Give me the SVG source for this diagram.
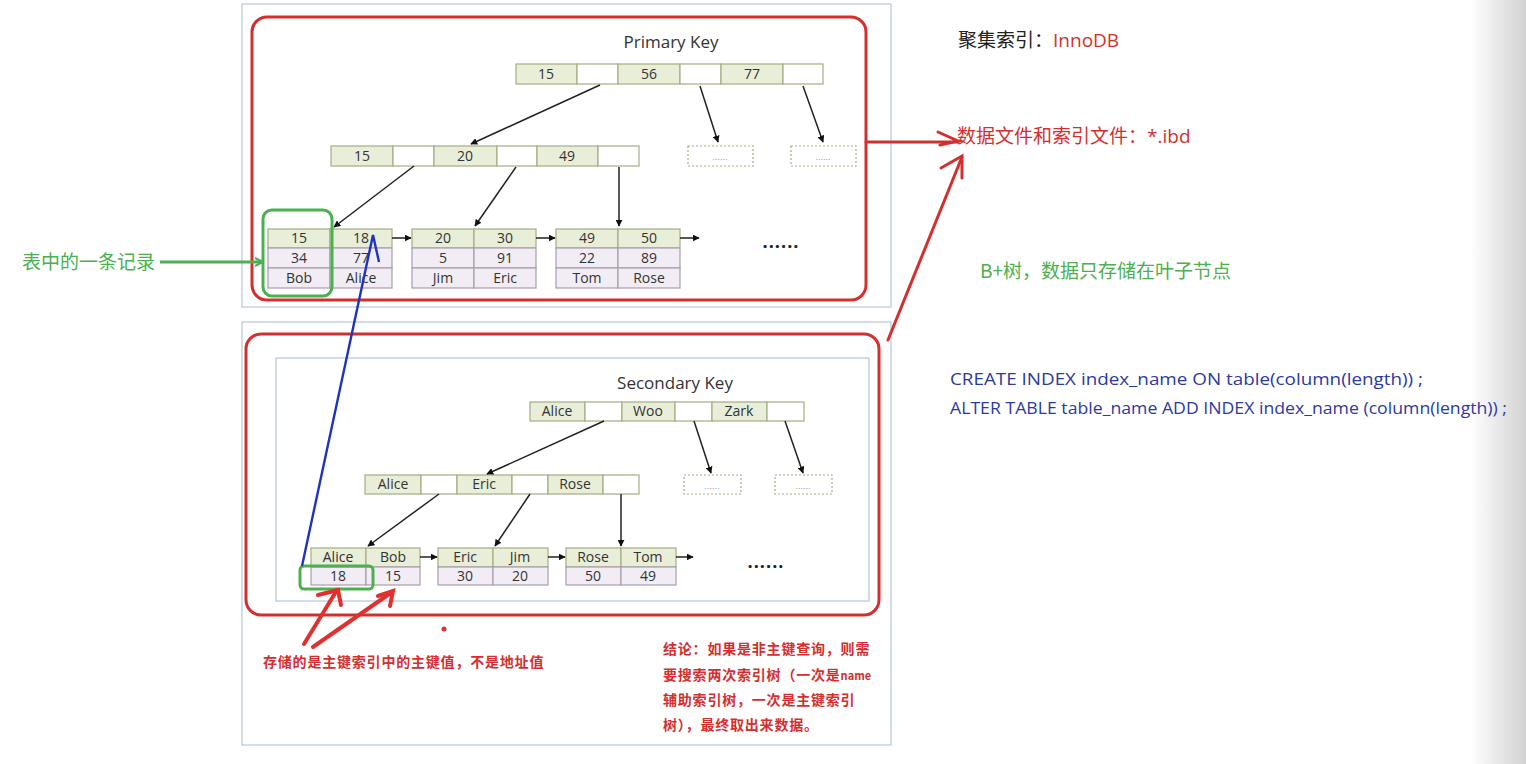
<svg xmlns="http://www.w3.org/2000/svg" width="1526" height="764" viewBox="0 0 1526 764">
<defs>
<marker id="ah" viewBox="0 0 10 10" refX="9" refY="5" markerWidth="7" markerHeight="7" orient="auto" markerUnits="userSpaceOnUse"><path d="M0,0 L10,5 L0,10 z" fill="#111"/></marker>
<marker id="ahg" viewBox="0 0 10 10" refX="8" refY="5" markerWidth="10" markerHeight="10" orient="auto" markerUnits="userSpaceOnUse"><path d="M1,1 L9,5 L1,9" fill="none" stroke="#4caf50" stroke-width="2"/></marker>
<linearGradient id="shade" x1="0" y1="0" x2="1" y2="0"><stop offset="0" stop-color="#ffffff"/><stop offset="1" stop-color="#d2d2d2"/></linearGradient>
<style>
.frame{fill:none;stroke:#a9bccd;stroke-width:1}
.red{fill:none;stroke:#d32f2f;stroke-width:3}
.k{fill:#e9eed9;stroke:#a3ad82;stroke-width:1.2}
.e{fill:#ffffff;stroke:#a3ad82;stroke-width:1.2}
.d{fill:#f2edf4;stroke:#aa9cae;stroke-width:1.2}
.dash{fill:#fff;stroke:#a3ad82;stroke-width:1.2;stroke-dasharray:2 2}
.t{font-family:"Open Sans","Liberation Sans",sans-serif;font-size:14px;fill:#333;text-anchor:middle}
.dots{font-family:"Liberation Sans",sans-serif;font-size:9px;fill:#999;text-anchor:middle}
.big{font-family:"Open Sans","Liberation Sans",sans-serif;font-size:18px;fill:#222;font-weight:bold;text-anchor:middle;letter-spacing:1px}
.title{font-family:"Open Sans","Liberation Sans",sans-serif;font-size:17px;fill:#333;text-anchor:middle}
.ln{stroke:#222;stroke-width:1.5;fill:none}
.cjk{font-family:"Noto Sans CJK SC",sans-serif}
.rb{font-family:"Noto Sans CJK SC",sans-serif;font-size:14px;font-weight:bold;fill:#d32f2f;letter-spacing:0.8px}
.sql{font-family:"Open Sans","Liberation Sans",sans-serif;font-size:16px;fill:#2b3a9c}
</style>
</defs>
<rect width="1526" height="764" fill="#fff"/>
<rect x="1470" y="0" width="56" height="764" fill="url(#shade)"/>

<g id="frames">
<rect class="frame" x="242" y="4" width="649" height="303"/>
<rect class="frame" x="242" y="322" width="649" height="423"/>
<rect class="red" x="252" y="17" width="614" height="283" rx="15"/>
<rect class="red" x="246" y="334" width="633" height="281" rx="15"/>
<rect class="frame" x="276" y="358" width="593" height="243"/>
</g>

<g id="pk-title"><text class="title" x="671" y="48">Primary Key</text></g>

<g id="pk-root">
<rect class="k" x="516" y="64" width="61" height="20"/><text class="t" x="546" y="79">15</text>
<rect class="e" x="577" y="64" width="41" height="20"/>
<rect class="k" x="618" y="64" width="62" height="20"/><text class="t" x="649" y="79">56</text>
<rect class="e" x="680" y="64" width="41" height="20"/>
<rect class="k" x="721" y="64" width="62" height="20"/><text class="t" x="752" y="79">77</text>
<rect class="e" x="783" y="64" width="40" height="20"/>
</g>

<g id="pk-l2">
<rect class="k" x="331" y="146" width="62" height="20"/><text class="t" x="362" y="161">15</text>
<rect class="e" x="393" y="146" width="41" height="20"/>
<rect class="k" x="434" y="146" width="63" height="20"/><text class="t" x="465" y="161">20</text>
<rect class="e" x="497" y="146" width="40" height="20"/>
<rect class="k" x="537" y="146" width="61" height="20"/><text class="t" x="567" y="161">49</text>
<rect class="e" x="598" y="146" width="41" height="20"/>
</g>
<g id="pk-dash1"><rect class="dash" x="688" y="146" width="65" height="20"/><text class="dots" x="720" y="160">......</text></g>
<g id="pk-dash2"><rect class="dash" x="791" y="146" width="65" height="20"/><text class="dots" x="823" y="160">......</text></g>

<g id="pk-leaf1">
<rect class="k" x="268" y="229" width="62" height="19"/><text class="t" x="299" y="243">15</text>
<rect class="k" x="330" y="229" width="62" height="19"/><text class="t" x="361" y="243">18</text>
<rect class="d" x="268" y="248" width="62" height="20"/><text class="t" x="299" y="263">34</text>
<rect class="d" x="330" y="248" width="62" height="20"/><text class="t" x="361" y="263">77</text>
<rect class="d" x="268" y="268" width="62" height="20"/><text class="t" x="299" y="283">Bob</text>
<rect class="d" x="330" y="268" width="62" height="20"/><text class="t" x="361" y="283">Alice</text>
</g>
<g id="pk-leaf2">
<rect class="k" x="412" y="229" width="62" height="19"/><text class="t" x="443" y="243">20</text>
<rect class="k" x="474" y="229" width="62" height="19"/><text class="t" x="505" y="243">30</text>
<rect class="d" x="412" y="248" width="62" height="20"/><text class="t" x="443" y="263">5</text>
<rect class="d" x="474" y="248" width="62" height="20"/><text class="t" x="505" y="263">91</text>
<rect class="d" x="412" y="268" width="62" height="20"/><text class="t" x="443" y="283">Jim</text>
<rect class="d" x="474" y="268" width="62" height="20"/><text class="t" x="505" y="283">Eric</text>
</g>
<g id="pk-leaf3">
<rect class="k" x="556" y="229" width="62" height="19"/><text class="t" x="587" y="243">49</text>
<rect class="k" x="618" y="229" width="62" height="19"/><text class="t" x="649" y="243">50</text>
<rect class="d" x="556" y="248" width="62" height="20"/><text class="t" x="587" y="263">22</text>
<rect class="d" x="618" y="248" width="62" height="20"/><text class="t" x="649" y="263">89</text>
<rect class="d" x="556" y="268" width="62" height="20"/><text class="t" x="587" y="283">Tom</text>
<rect class="d" x="618" y="268" width="62" height="20"/><text class="t" x="649" y="283">Rose</text>
</g>
<g id="pk-more"><text class="big" x="781" y="248">......</text></g>

<g id="sk-title"><text class="title" x="675" y="389">Secondary Key</text></g>
<g id="sk-root">
<rect class="k" x="530" y="402" width="55" height="19"/><text class="t" x="557" y="416">Alice</text>
<rect class="e" x="585" y="402" width="37" height="19"/>
<rect class="k" x="622" y="402" width="53" height="19"/><text class="t" x="648" y="416">Woo</text>
<rect class="e" x="675" y="402" width="37" height="19"/>
<rect class="k" x="712" y="402" width="55" height="19"/><text class="t" x="739" y="416">Zark</text>
<rect class="e" x="767" y="402" width="37" height="19"/>
</g>
<g id="sk-l2">
<rect class="k" x="365" y="475" width="56" height="19"/><text class="t" x="393" y="489">Alice</text>
<rect class="e" x="421" y="475" width="36" height="19"/>
<rect class="k" x="457" y="475" width="55" height="19"/><text class="t" x="484" y="489">Eric</text>
<rect class="e" x="512" y="475" width="36" height="19"/>
<rect class="k" x="548" y="475" width="55" height="19"/><text class="t" x="575" y="489">Rose</text>
<rect class="e" x="603" y="475" width="36" height="19"/>
</g>
<g id="sk-dash1"><rect class="dash" x="684" y="475" width="57" height="19"/><text class="dots" x="712" y="489">......</text></g>
<g id="sk-dash2"><rect class="dash" x="775" y="475" width="57" height="19"/><text class="dots" x="803" y="489">......</text></g>

<g id="sk-leaf1">
<rect class="k" x="311" y="548" width="55" height="19"/><text class="t" x="338" y="562">Alice</text>
<rect class="k" x="366" y="548" width="54" height="19"/><text class="t" x="393" y="562">Bob</text>
<rect class="d" x="311" y="567" width="55" height="18"/><text class="t" x="338" y="581">18</text>
<rect class="d" x="366" y="567" width="54" height="18"/><text class="t" x="393" y="581">15</text>
</g>
<g id="sk-leaf2">
<rect class="k" x="438" y="548" width="55" height="19"/><text class="t" x="465" y="562">Eric</text>
<rect class="k" x="493" y="548" width="55" height="19"/><text class="t" x="520" y="562">Jim</text>
<rect class="d" x="438" y="567" width="55" height="18"/><text class="t" x="465" y="581">30</text>
<rect class="d" x="493" y="567" width="55" height="18"/><text class="t" x="520" y="581">20</text>
</g>
<g id="sk-leaf3">
<rect class="k" x="566" y="548" width="55" height="19"/><text class="t" x="593" y="562">Rose</text>
<rect class="k" x="621" y="548" width="55" height="19"/><text class="t" x="648" y="562">Tom</text>
<rect class="d" x="566" y="567" width="55" height="18"/><text class="t" x="593" y="581">50</text>
<rect class="d" x="621" y="567" width="55" height="18"/><text class="t" x="648" y="581">49</text>
</g>
<g id="sk-more"><text class="big" x="766" y="568">......</text></g>

<g id="connectors">
<line class="ln" x1="600" y1="85" x2="471" y2="144" marker-end="url(#ah)"/>
<line class="ln" x1="700" y1="86" x2="718" y2="142" marker-end="url(#ah)"/>
<line class="ln" x1="803" y1="86" x2="823" y2="142" marker-end="url(#ah)"/>
<line class="ln" x1="414" y1="166" x2="334" y2="227" marker-end="url(#ah)"/>
<line class="ln" x1="516" y1="167" x2="475" y2="226" marker-end="url(#ah)"/>
<line class="ln" x1="619" y1="167" x2="619" y2="226" marker-end="url(#ah)"/>
<line class="ln" x1="392" y1="238" x2="411" y2="238" marker-end="url(#ah)"/>
<line class="ln" x1="536" y1="238" x2="555" y2="238" marker-end="url(#ah)"/>
<line class="ln" x1="680" y1="238" x2="699" y2="238" marker-end="url(#ah)"/>

<line class="ln" x1="604" y1="421" x2="487" y2="474" marker-end="url(#ah)"/>
<line class="ln" x1="694" y1="421" x2="711" y2="473" marker-end="url(#ah)"/>
<line class="ln" x1="785" y1="421" x2="803" y2="473" marker-end="url(#ah)"/>
<line class="ln" x1="439" y1="494" x2="368" y2="546" marker-end="url(#ah)"/>
<line class="ln" x1="530" y1="494" x2="495" y2="546" marker-end="url(#ah)"/>
<line class="ln" x1="621" y1="494" x2="621" y2="546" marker-end="url(#ah)"/>
<line class="ln" x1="420" y1="557" x2="437" y2="557" marker-end="url(#ah)"/>
<line class="ln" x1="548" y1="557" x2="565" y2="557" marker-end="url(#ah)"/>
<line class="ln" x1="676" y1="557" x2="693" y2="557" marker-end="url(#ah)"/>

<rect x="263" y="210" width="69" height="86" rx="9" fill="none" stroke="#4caf50" stroke-width="3"/>
<line x1="160" y1="262" x2="262" y2="262" stroke="#4caf50" stroke-width="3" marker-end="url(#ahg)"/>
<rect x="300" y="566" width="73" height="23" rx="4" fill="none" stroke="#4caf50" stroke-width="3"/>
<polyline points="302,566 373,235 379,262" fill="none" stroke="#1f33c0" stroke-width="2.4"/>
<g stroke="#e03030" stroke-width="4" fill="none" stroke-linecap="round">
<line x1="304" y1="644" x2="337" y2="590"/>
<polyline points="318,595 338,590 341,605"/>
<line x1="313" y1="647" x2="392" y2="592"/>
<polyline points="378,596 393,591 390,606"/>
</g>
<circle cx="444" cy="629" r="2.5" fill="#e03030"/>
<g stroke="#d32f2f" stroke-width="3" fill="none" stroke-linecap="round">
<line x1="866" y1="142" x2="958" y2="142"/>
<polyline points="938,132 958,141 940,145"/>
<line x1="888" y1="340" x2="962" y2="157"/>
<polyline points="941,168 962,156 962,178"/>
</g>
</g>

<g id="labels">
<text class="cjk" x="22" y="269" font-size="19" fill="#4caf50">表中的一条记录</text>
<text class="rb" x="263" y="667">存储的是主键索引中的主键值，不是地址值</text>
<text class="rb" x="663" y="654">结论：如果是非主键查询，则需</text>
<text class="rb" x="663" y="680">要搜索两次索引树（一次是<tspan font-size="11" letter-spacing="0">name</tspan></text>
<text class="rb" x="663" y="705">辅助索引树，一次是主键索引</text>
<text class="rb" x="663" y="730">树），最终取出来数据。</text>
<text x="958" y="47" font-size="19" class="cjk" fill="#222">聚集索引：<tspan fill="#d32f2f" font-family="'Open Sans','Liberation Sans',sans-serif">InnoDB</tspan></text>
<text x="957" y="143" font-size="19" class="cjk" fill="#d32f2f">数据文件和索引文件：<tspan font-family="'Open Sans','Liberation Sans',sans-serif">*.ibd</tspan></text>
<text x="980" y="278" font-size="19" class="cjk" fill="#4caf50">B+树，数据只存储在叶子节点</text>
<text class="sql" x="950" y="385" textLength="473" lengthAdjust="spacingAndGlyphs">CREATE INDEX index_name ON table(column(length)) ;</text>
<text class="sql" x="950" y="414" textLength="557" lengthAdjust="spacingAndGlyphs">ALTER TABLE table_name ADD INDEX index_name (column(length)) ;</text>
</g>
</svg>
